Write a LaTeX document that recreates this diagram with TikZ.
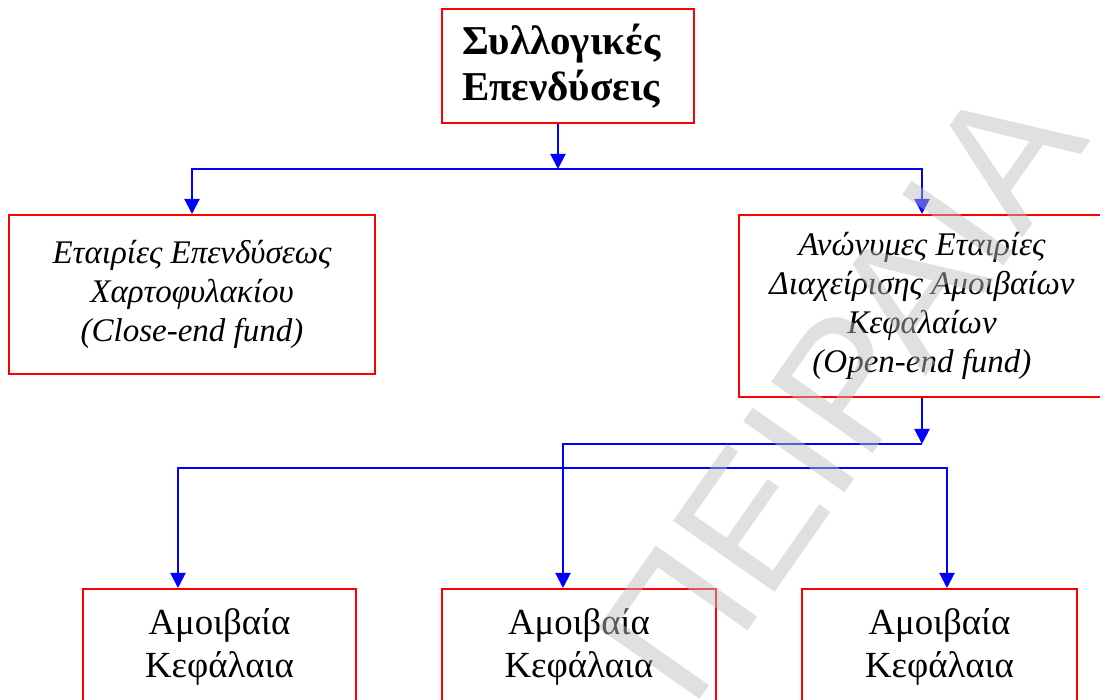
\documentclass[tikz,border=0pt]{standalone}
\usepackage{fontspec}
\setmainfont{Liberation Serif}
\newfontfamily\wmfont{Liberation Sans}
\usetikzlibrary{arrows.meta}
\definecolor{boxred}{RGB}{255,0,0}
\definecolor{lineblue}{RGB}{0,0,255}
\definecolor{wmgray}{gray}{0.745}
\begin{document}
\begin{tikzpicture}[x=0.5pt,y=-0.5pt,
  box/.style={draw=boxred, line width=1pt, align=center, inner sep=0pt},
  conn/.style={draw=lineblue, line width=1pt},
  arr/.style={conn, -{Triangle[width=7.5pt,length=7.5pt]}},
  dblarr/.style={conn, {Triangle[width=7.5pt,length=7.5pt]}-{Triangle[width=7.5pt,length=7.5pt]}},
  titlefont/.style={font=\fontsize{20.5}{23}\selectfont\bfseries},
  itfont/.style={font=\fontsize{16.5}{19.5}\selectfont\itshape},
  btfont/.style={font=\fontsize{18.4}{21.5}\selectfont}]
\useasboundingbox (0,0) rectangle (1100,700);
\clip (0,0) rectangle (1100,700);
\fill[white] (0,0) rectangle (1100,700);

% boxes
\node[box, titlefont, minimum width=126pt, minimum height=57pt, text width=106pt, align=left, inner xsep=10pt] (title) at (568,66) {Συλλογικές\\Επενδύσεις};
\node[box, itfont, minimum width=183pt, minimum height=79.5pt] (lb) at (192,294.5) {Εταιρίες Επενδύσεως\\Χαρτοφυλακίου\\(Close-end fund)};
\node[box, itfont, minimum width=183pt, minimum height=91pt] (rb) at (922,306) {Ανώνυμες Εταιρίες\\Διαχείρισης Αμοιβαίων\\Κεφαλαίων\\(Open-end fund)};
\node[box, btfont, anchor=north, minimum width=136.5pt, minimum height=58pt] (b1) at (219.5,588) {Αμοιβαία\\Κεφάλαια};
\node[box, btfont, anchor=north, minimum width=137pt, minimum height=58pt] (b2) at (579,588) {Αμοιβαία\\Κεφάλαια};
\node[box, btfont, anchor=north, minimum width=137.5pt, minimum height=58pt] (b3) at (939.5,588) {Αμοιβαία\\Κεφάλαια};

% junction coordinates
\coordinate (j1) at (558,169);
\coordinate (j2) at (922,444);
\coordinate (m2) at (563,444);
\coordinate (l1) at (178,468);
\coordinate (l3) at (947,468);

% connectors
\draw[arr] (title.south -| j1) -- (j1);
\draw[arr] (j1) -| (lb.north);
\draw[arr] (j1) -| (rb.north);
\draw[arr] (rb.south) -- (j2);
\draw[arr] (j2) -- (m2) -- (m2 |- b2.north);
\draw[dblarr] (l1 |- b1.north) -- (l1) -- (l3) -- (l3 |- b3.north);

% watermark
\node[rotate=55, anchor=base east, text=wmgray, text opacity=0.47, inner sep=0pt,
  font=\fontsize{90}{90}\selectfont\wmfont] (wm) at (1092,140) {Ο ΠΕΙΡΑΙΑ};
\end{tikzpicture}
\end{document}
